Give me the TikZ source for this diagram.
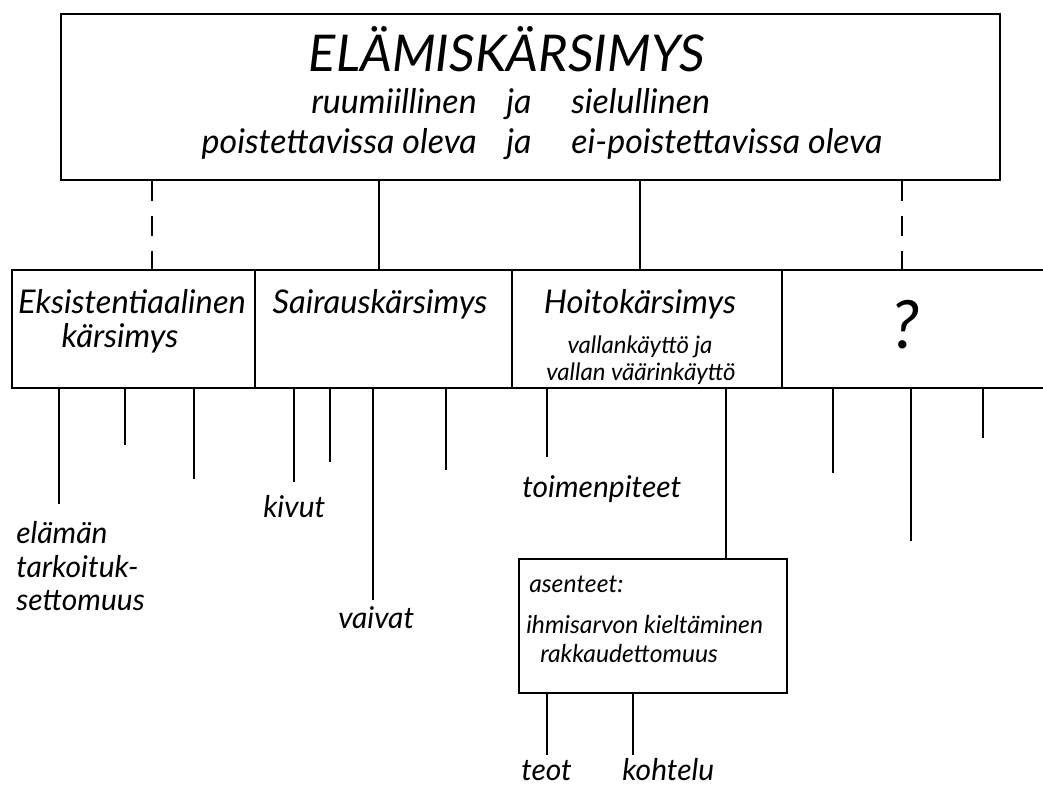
\documentclass[tikz,border=0pt]{standalone}
\usepackage{fontspec}
\setmainfont{Lato}
\usetikzlibrary{calc}
\begin{document}
\begin{tikzpicture}[x=0.75pt,y=-0.75pt,
  topbox/.style={draw, line width=1.8pt, rectangle, inner sep=0pt, minimum width=704pt, minimum height=124.5pt},
  cellbox/.style={draw, line width=1.4pt, rectangle, inner sep=0pt, minimum height=88.5pt},
  conn/.style={line width=1.1pt},
  dconn/.style={line width=1.1pt, dash pattern=on 15pt off 11pt},
  titletxt/.style={font=\itshape\fontsize{38}{44}\selectfont, inner sep=0pt},
  subtxt/.style={font=\itshape\fontsize{25.5}{30}\selectfont, inner sep=0pt},
  celltxt/.style={font=\itshape\fontsize{24.5}{29}\selectfont, inner sep=0pt},
  smalltxt/.style={font=\itshape\fontsize{18}{21}\selectfont, inner sep=0pt},
  boxtxt/.style={font=\itshape\fontsize{18.5}{22}\selectfont, inner sep=0pt},
  lbl/.style={font=\itshape\fontsize{22.5}{26}\selectfont, inner sep=0pt}
]
\useasboundingbox (0,0) rectangle (1043,785);
\clip (0,0) rectangle (1043,785);

% top box
\node[topbox] (top) at (530.5,97) {};
\node[titletxt, anchor=base] (t1) at (507,71) {ELÄMISKÄRSIMYS};
\node[subtxt, anchor=base east] (t2a) at (477,113) {ruumiillinen};
\node[subtxt, anchor=base] (t2b) at (519,113) {ja};
\node[subtxt, anchor=base west] (t2c) at (571,113) {sielullinen};
\node[subtxt, anchor=base east] (t3a) at (477,153) {poistettavissa oleva};
\node[subtxt, anchor=base] (t3b) at (519,153) {ja};
\node[subtxt, anchor=base west] (t3c) at (571,153) {ei-poistettavissa oleva};

% row of cells
\node[cellbox, minimum width=182.25pt] (c1) at (133.5,329) {};
\node[cellbox, minimum width=192.75pt] (c2) at (383.5,329) {};
\node[cellbox, minimum width=202.5pt] (c3) at (647,329) {};
\node[cellbox, minimum width=201pt] (c4) at (916,329) {};

\node[celltxt, anchor=base] (e1) at (132,313) {Eksistentiaalinen};
\node[celltxt, anchor=base] (e2) at (120,347) {kärsimys};
\node[celltxt, anchor=base] (s1) at (380,313) {Sairauskärsimys};
\node[celltxt, anchor=base] (h1) at (640,313) {Hoitokärsimys};
\node[smalltxt, anchor=base] (h2) at (640,353) {vallankäyttö ja};
\node[smalltxt, anchor=base] (h3) at (641,380) {vallan väärinkäyttö};
\node[font=\itshape\fontsize{50}{58}\selectfont, inner sep=0pt] (q) at (905,325) {?};

% connectors top -> cells
\coordinate (u1) at (152,270);
\coordinate (u2) at (379,270);
\coordinate (u3) at (640,270);
\coordinate (u4) at (902,270);
\draw[dconn] (top.south -| u1) -- (u1);
\draw[conn] (top.south -| u2) -- (u2);
\draw[conn] (top.south -| u3) -- (u3);
\draw[dconn] (top.south -| u4) -- (u4);

% hanging lines
\coordinate (d1) at (59,504);
\coordinate (d2) at (125,445);
\coordinate (d3) at (194,479);
\coordinate (d4) at (294,482);
\coordinate (d5) at (330,462);
\coordinate (d6) at (373,600);
\coordinate (d7) at (446,470);
\coordinate (d8) at (547,457);
\coordinate (d9) at (833,473);
\coordinate (d10) at (911,541);
\coordinate (d11) at (983,438);
\foreach \c/\p in {d1/c1,d2/c1,d3/c1,d4/c2,d5/c2,d6/c2,d7/c2,d8/c3,d9/c4,d10/c4,d11/c4}
  \draw[conn] (\p.south -| \c) -- (\c);

% asenteet box
\node[cellbox, line width=1.6pt, minimum width=201pt, minimum height=100.5pt] (as) at (653,626) {};
\coordinate (ha) at (726,0);
\draw[conn] (c3.south -| ha) -- (as.north -| ha);
\node[boxtxt, anchor=base west] (a1) at (529,592) {asenteet:};
\node[boxtxt, anchor=base west] (a2) at (526,633) {ihmisarvon kieltäminen};
\node[boxtxt, anchor=base west] (a3) at (540,662) {rakkaudettomuus};
\coordinate (b1) at (547,755);
\coordinate (b2) at (633,755);
\draw[conn] (as.south -| b1) -- (b1);
\draw[conn] (as.south -| b2) -- (b2);

% labels
\node[lbl, anchor=base west] (l1a) at (16,543) {elämän};
\node[lbl, anchor=base west] (l1b) at (16,577) {tarkoituk-};
\node[lbl, anchor=base west] (l1c) at (16,610) {settomuus};
\node[lbl, anchor=base west] (l2) at (263,517) {kivut};
\node[lbl, anchor=base west] (l3) at (338,628) {vaivat};
\node[lbl, anchor=base west] (l4) at (522,497) {toimenpiteet};
\node[lbl, anchor=base west] (l5) at (521,780) {teot};
\node[lbl, anchor=base west] (l6) at (622,780) {kohtelu};
\end{tikzpicture}
\end{document}
